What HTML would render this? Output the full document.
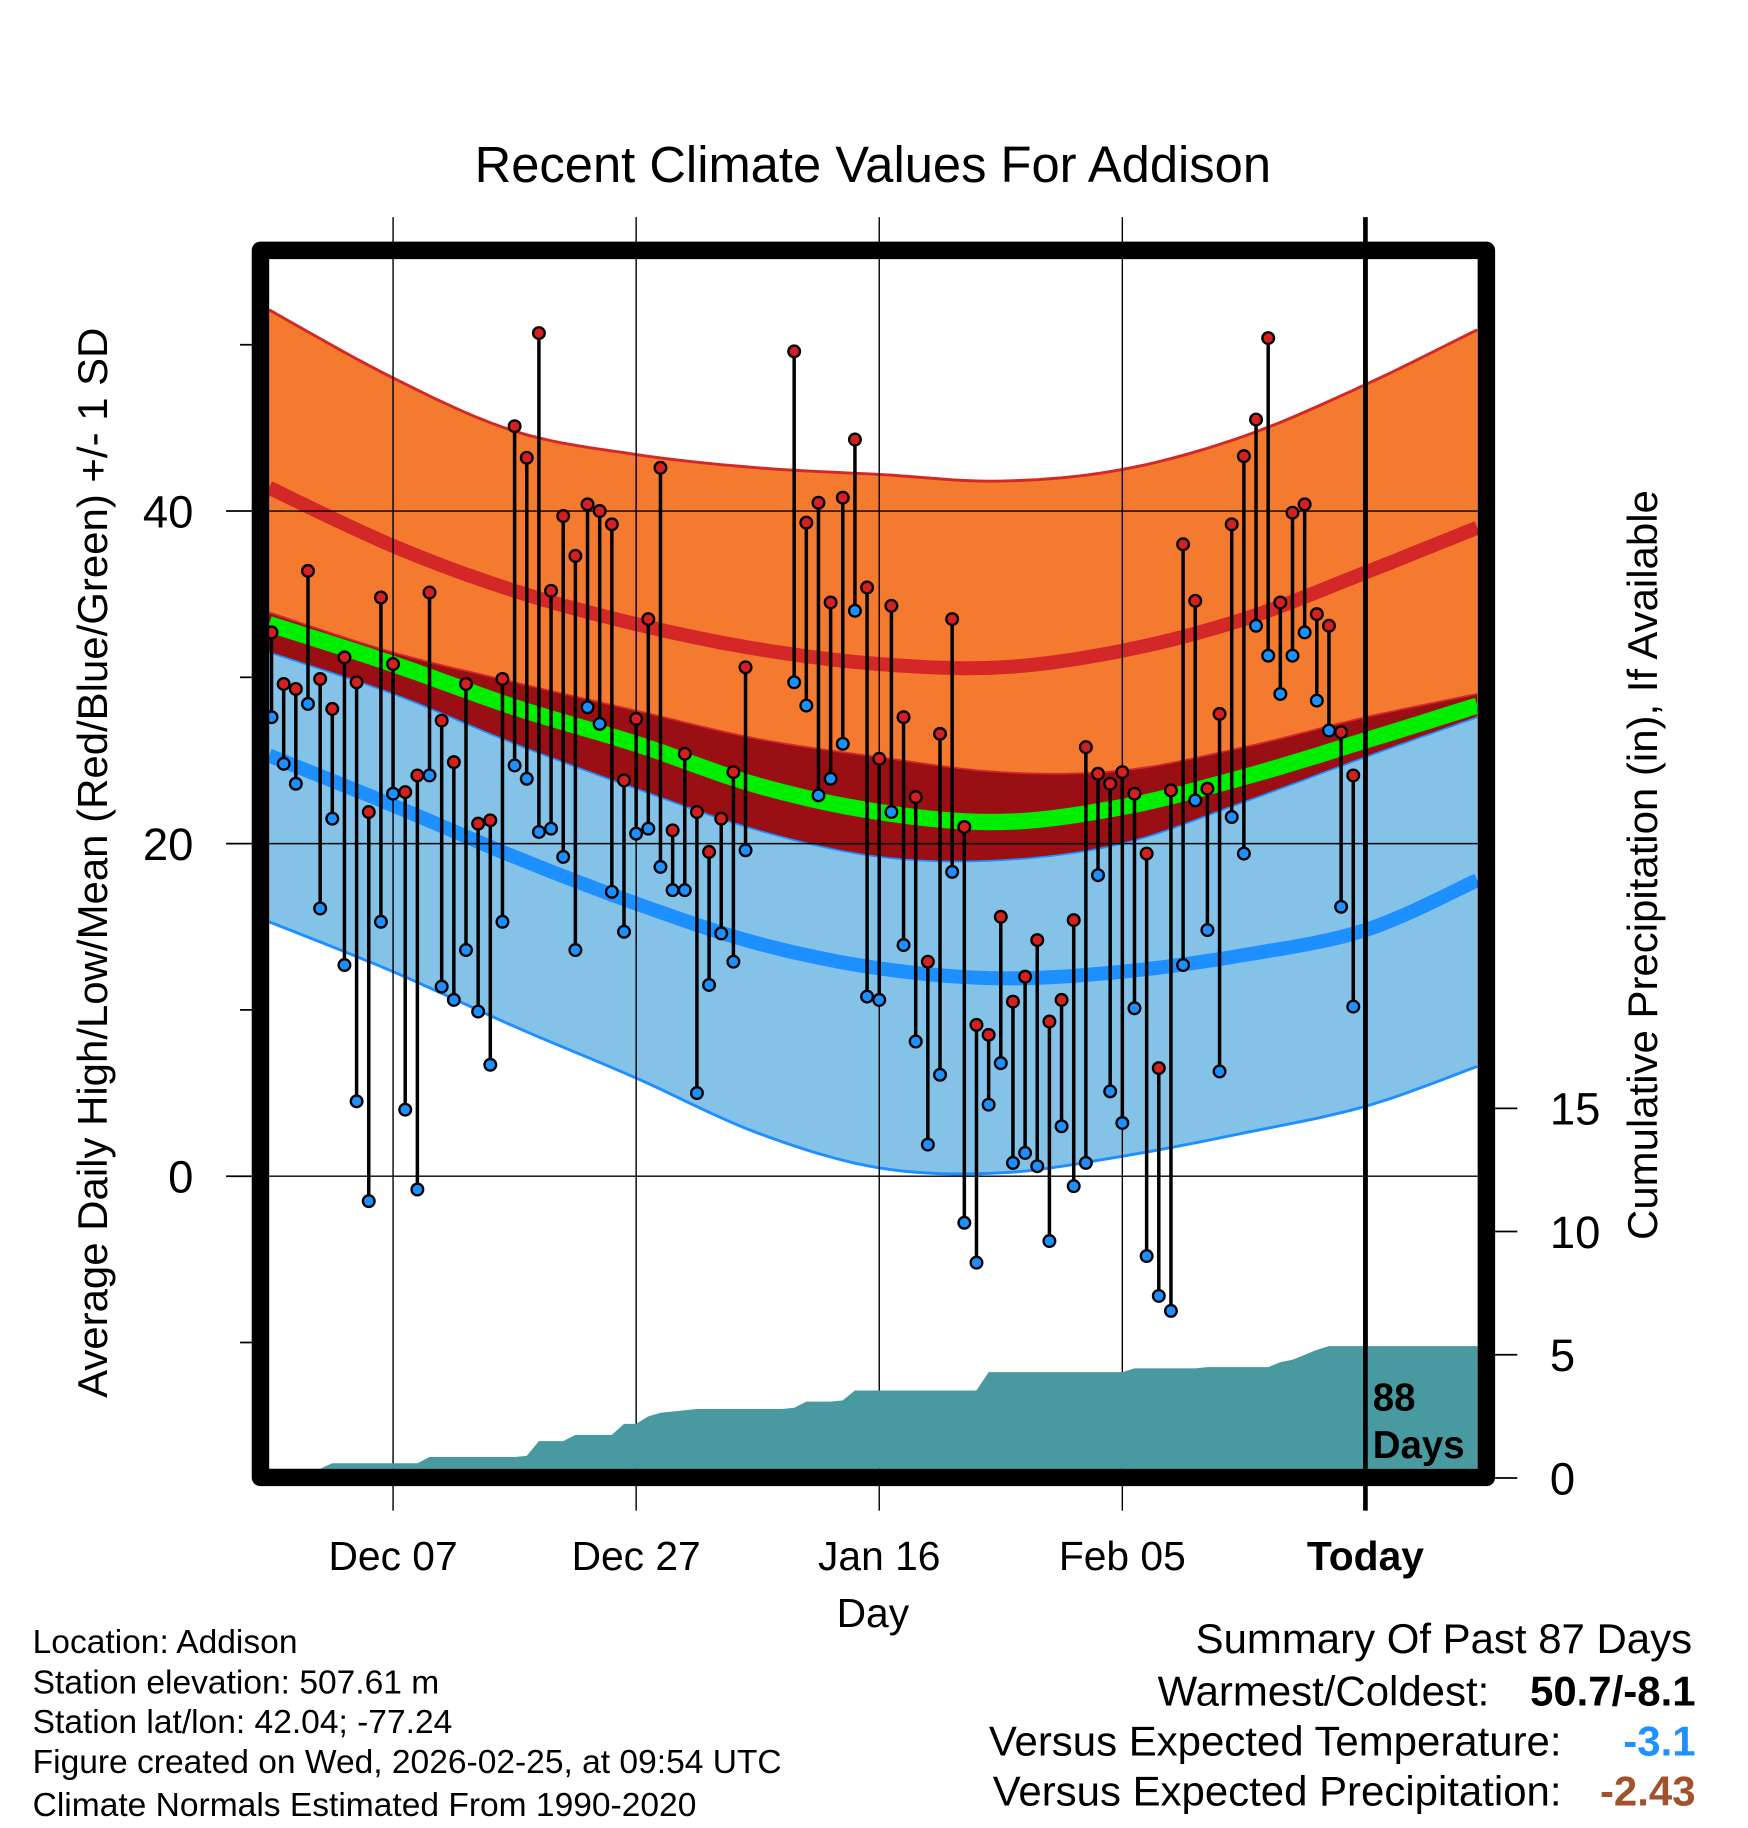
<!DOCTYPE html>
<html><head><meta charset="utf-8"><style>
html,body{margin:0;padding:0;background:#fff;}
svg{display:block;font-family:"Liberation Sans",sans-serif;}
</style></head><body>
<svg id="chart" width="1748" height="1828" viewBox="0 0 1500 1568" xmlns="http://www.w3.org/2000/svg">
<rect x="0" y="0" width="1500" height="1568" fill="#fff"/>
<g id="bands"></g>
<g id="grid"></g>
<g id="precip"></g>
<g id="obs"></g>
<g id="frame"></g>
<text x="749" y="156" font-size="43.5" text-anchor="middle">Recent Climate Values For Addison</text>
<text transform="translate(92,740) rotate(-90)" font-size="36" text-anchor="middle">Average Daily High/Low/Mean (Red/Blue/Green) +/- 1 SD</text>
<text transform="translate(1422,742) rotate(-90)" font-size="36" text-anchor="middle">Cumulative Precipitation (in), If Available</text>
<text x="749" y="1396" font-size="35" text-anchor="middle">Day</text>
<g font-size="28.8">
<text x="28" y="1418">Location: Addison</text>
<text x="28" y="1453">Station elevation: 507.61 m</text>
<text x="28" y="1487">Station lat/lon: 42.04; -77.24</text>
<text x="28" y="1521">Figure created on Wed, 2026-02-25, at 09:54 UTC</text>
<text x="28" y="1558">Climate Normals Estimated From 1990-2020</text>
</g>
<g font-size="36">
<text x="1452" y="1418" text-anchor="end">Summary Of Past 87 Days</text>
<text x="1278" y="1463" text-anchor="end">Warmest/Coldest:</text>
<text x="1455" y="1463" text-anchor="end" font-weight="bold">50.7/-8.1</text>
<text x="1340" y="1506" text-anchor="end">Versus Expected Temperature:</text>
<text x="1455" y="1506" text-anchor="end" font-weight="bold" fill="#1e90ff">-3.1</text>
<text x="1340" y="1549" text-anchor="end">Versus Expected Precipitation:</text>
<text x="1455" y="1549" text-anchor="end" font-weight="bold" fill="#a0522d">-2.43</text>
</g>
</svg>
<script>
// Normals sampled at days (relative to first observation day)
const normDays = [-0.2, 10, 20, 30, 40, 50, 60, 70, 80, 90, 99.2];
const hiUpper  = [52.1, 48.0, 44.8, 43.4, 42.6, 42.2, 41.8, 42.5, 44.5, 47.6, 50.9];
const hiNormal = [41.4, 37.9, 35.2, 33.2, 31.7, 30.8, 30.6, 31.6, 33.5, 36.3, 39.0];
const hiLower  = [33.9, 31.5, 29.7, 28.0, 26.3, 25.2, 24.3, 24.4, 25.8, 27.6, 29.0];
const meanNorm = [33.2, 30.8, 28.2, 26.0, 23.5, 21.9, 21.3, 22.2, 24.0, 26.2, 28.3];
const loUpper  = [31.5, 29.0, 26.0, 23.3, 20.8, 19.2, 19.0, 20.0, 22.5, 25.2, 27.6];
const loNormal = [25.3, 22.3, 19.2, 16.4, 14.0, 12.5, 11.9, 12.3, 13.3, 14.8, 17.8];
const loLower  = [15.3, 12.3, 9.0, 5.9, 2.6, 0.5, 0.2, 1.2, 2.6, 4.2, 6.6];
// Observed daily highs/lows (null = missing)
const highs = [32.7,29.6,29.3,36.4,29.9,28.1,31.2,29.7,21.9,34.8,30.8,23.1,24.1,35.1,27.4,24.9,29.6,21.2,21.4,29.9,
45.1,43.2,50.7,35.2,39.7,37.3,40.4,40.0,39.2,23.8,27.5,33.5,42.6,20.8,25.4,21.9,19.5,21.5,24.3,30.6,
null,null,null,49.6,39.3,40.5,34.5,40.8,44.3,35.4,25.1,34.3,27.6,22.8,12.9,26.6,33.5,21.0,9.1,8.5,
15.6,10.5,12.0,14.2,9.3,10.6,15.4,25.8,24.2,23.6,24.3,23.0,19.4,6.5,23.2,38.0,34.6,23.3,27.8,39.2,
43.3,45.5,50.4,34.5,39.9,40.4,33.8,33.1,26.7,24.1];
const lows = [27.6,24.8,23.6,28.4,16.1,21.5,12.7,4.5,-1.5,15.3,23.0,4.0,-0.8,24.1,11.4,10.6,13.6,9.9,6.7,15.3,
24.7,23.9,20.7,20.9,19.2,13.6,28.2,27.2,17.1,14.7,20.6,20.9,18.6,17.2,17.2,5.0,11.5,14.6,12.9,19.6,
null,null,null,29.7,28.3,22.9,23.9,26.0,34.0,10.8,10.6,21.9,13.9,8.1,1.9,6.1,18.3,-2.8,-5.2,4.3,
6.8,0.8,1.4,0.6,-3.9,3.0,-0.6,0.8,18.1,5.1,3.2,10.1,-4.8,-7.2,-8.1,12.7,22.6,14.8,6.3,21.6,
19.4,33.1,31.3,29.0,31.3,32.7,28.6,26.8,16.2,10.2];
// Cumulative precipitation (in) by day
const precip = [0,0,0,0,0,0.6,0.6,0.6,0.6,0.6,0.6,0.6,0.6,0.85,0.85,0.85,0.85,0.85,0.85,0.85,
0.85,0.9,1.5,1.5,1.5,1.75,1.75,1.75,1.75,2.2,2.2,2.5,2.65,2.7,2.75,2.8,2.8,2.8,2.8,2.8,
2.8,2.8,2.8,2.85,3.1,3.1,3.1,3.15,3.55,3.55,3.55,3.55,3.55,3.55,3.55,3.55,3.55,3.55,3.55,4.3,
4.3,4.3,4.3,4.3,4.3,4.3,4.3,4.3,4.3,4.3,4.3,4.45,4.45,4.45,4.45,4.45,4.45,4.5,4.5,4.5,
4.5,4.5,4.5,4.7,4.8,5.0,5.2,5.35,5.35,5.35];
const dateLabels = ["Dec 07","Dec 27","Jan 16","Feb 05","Today"];
const dateDays = [10,30,50,70,90];
const yTicks = [40,20,0];
const yMinor = [50,30,10,-10];
const pTicks = [0,5,10,15];

const NS="http://www.w3.org/2000/svg";
const L=231,R=1268,T=222,B=1260;
const xS=d=>233+10.43*d;
const yS=t=>1009-14.27*t;
const pS=p=>1268-21.15*p;
function mk(tag,attrs,parent){const e=document.createElementNS(NS,tag);for(const k in attrs)e.setAttribute(k,attrs[k]);parent.appendChild(e);return e;}
const g=id=>document.getElementById(id);

// Catmull-Rom smoothing through sampled normals
function line(arr){
  const P=normDays.map((d,i)=>[xS(d),yS(arr[i])]);
  const out=[];const n=P.length;
  for(let i=0;i<n-1;i++){
    const p0=P[Math.max(0,i-1)],p1=P[i],p2=P[i+1],p3=P[Math.min(n-1,i+2)];
    for(let s=0;s<10;s++){
      const t=s/10,t2=t*t,t3=t2*t;
      const f=(a,b,c,d)=>0.5*((2*b)+(-a+c)*t+(2*a-5*b+4*c-d)*t2+(-a+3*b-3*c+d)*t3);
      out.push([f(p0[0],p1[0],p2[0],p3[0]),f(p0[1],p1[1],p2[1],p3[1])]);
    }
  }
  out.push(P[n-1]);return out;
}
function bandPath(top,bot){const a=line(top),b=line(bot).reverse();return "M"+a.concat(b).map(p=>p[0].toFixed(1)+","+p[1].toFixed(1)).join(" L")+" Z";}
function linePath(arr){return "M"+line(arr).map(p=>p[0].toFixed(1)+","+p[1].toFixed(1)).join(" L");}

const bands=g('bands');
let e;
e=mk('path',{d:bandPath(hiLower,loUpper),fill:'#990f14'},bands);

e=mk('path',{d:bandPath(loUpper,loLower),fill:'#84c2e8'},bands);

e=mk('path',{d:linePath(loUpper),fill:'none',stroke:'#1e8fff','stroke-width':1.5},bands);

e=mk('path',{d:linePath(loLower),fill:'none',stroke:'#1e8fff','stroke-width':2.5},bands);

e=mk('path',{d:bandPath(hiUpper,hiLower),fill:'#f47a30'},bands);

e=mk('path',{d:linePath(hiUpper),fill:'none',stroke:'#d42828','stroke-width':2.5},bands);

e=mk('path',{d:linePath(hiLower),fill:'none',stroke:'#d42828','stroke-width':1.5},bands);

e=mk('path',{d:linePath(meanNorm),fill:'none',stroke:'#00ee00','stroke-width':14},bands);

e=mk('path',{d:linePath(hiNormal),fill:'none',stroke:'#d42828','stroke-width':12},bands);

e=mk('path',{d:linePath(loNormal),fill:'none',stroke:'#1e8fff','stroke-width':12},bands);


const grid=g('grid');
yTicks.forEach(t=>{
  e=mk('line',{x1:L,x2:R,y1:yS(t),y2:yS(t),stroke:'#000','stroke-width':1.2},grid);
  
  e=mk('line',{x1:194,x2:216,y1:yS(t),y2:yS(t),stroke:'#000','stroke-width':1.5},grid);
  
  e=mk('text',{x:166,y:yS(t)+14,'font-size':39,'text-anchor':'end'},grid);e.textContent=t;
  
});
yMinor.forEach(t=>{
  e=mk('line',{x1:206,x2:216,y1:yS(t),y2:yS(t),stroke:'#000','stroke-width':1.5},grid);
  
});
pTicks.forEach(p=>{
  e=mk('line',{x1:1283,x2:1302,y1:pS(p),y2:pS(p),stroke:'#000','stroke-width':1.5},grid);
  
  e=mk('text',{x:1330,y:pS(p)+14,'font-size':39},grid);e.textContent=p;
  
});
dateDays.forEach((d,i)=>{
  const today=dateLabels[i]==="Today";
  e=mk('line',{x1:xS(d),x2:xS(d),y1:186,y2:1296,stroke:'#000','stroke-width':today?4:1.2},grid);
  
  e=mk('text',{x:xS(d),y:1347,'font-size':35,'text-anchor':'middle','font-weight':today?'bold':'normal'},grid);e.textContent=dateLabels[i];
  
});

// precipitation area
const pg=g('precip');
let pts=[[xS(0),B]];
precip.forEach((p,i)=>pts.push([xS(i),Math.min(B,pS(p))]));
pts.push([R,Math.min(B,pS(precip[precip.length-1]))]);pts.push([R,B]);
e=mk('polygon',{points:pts.map(p=>p[0].toFixed(1)+","+p[1].toFixed(1)).join(" "),fill:'#4899a0'},pg);

e=mk('line',{x1:xS(90),x2:xS(90),y1:T,y2:B,stroke:'#000','stroke-width':4},pg);

e=mk('text',{x:1178,y:1210,'font-size':33,'font-weight':'bold'},pg);e.textContent="88";

e=mk('text',{x:1178,y:1251,'font-size':33,'font-weight':'bold'},pg);e.textContent="Days";


// observations
const og=g('obs');
highs.forEach((h,i)=>{
  const l=lows[i]; if(h==null||l==null) return;
  e=mk('line',{x1:xS(i),x2:xS(i),y1:yS(h),y2:yS(l),stroke:'#000','stroke-width':3},og);
  
});
highs.forEach((h,i)=>{
  const l=lows[i]; if(h==null||l==null) return;
  e=mk('circle',{cx:xS(i),cy:yS(h),r:5,fill:'#d42020',stroke:'#000','stroke-width':2},og);
  
  e=mk('circle',{cx:xS(i),cy:yS(l),r:5,fill:'#1e8fff',stroke:'#000','stroke-width':2},og);
  
});

const fg=g('frame');
e=mk('rect',{x:223.5,y:214.5,width:1052,height:1053,fill:'none',stroke:'#000','stroke-width':15,'stroke-linejoin':'round'},fg);

</script>
</body></html>
